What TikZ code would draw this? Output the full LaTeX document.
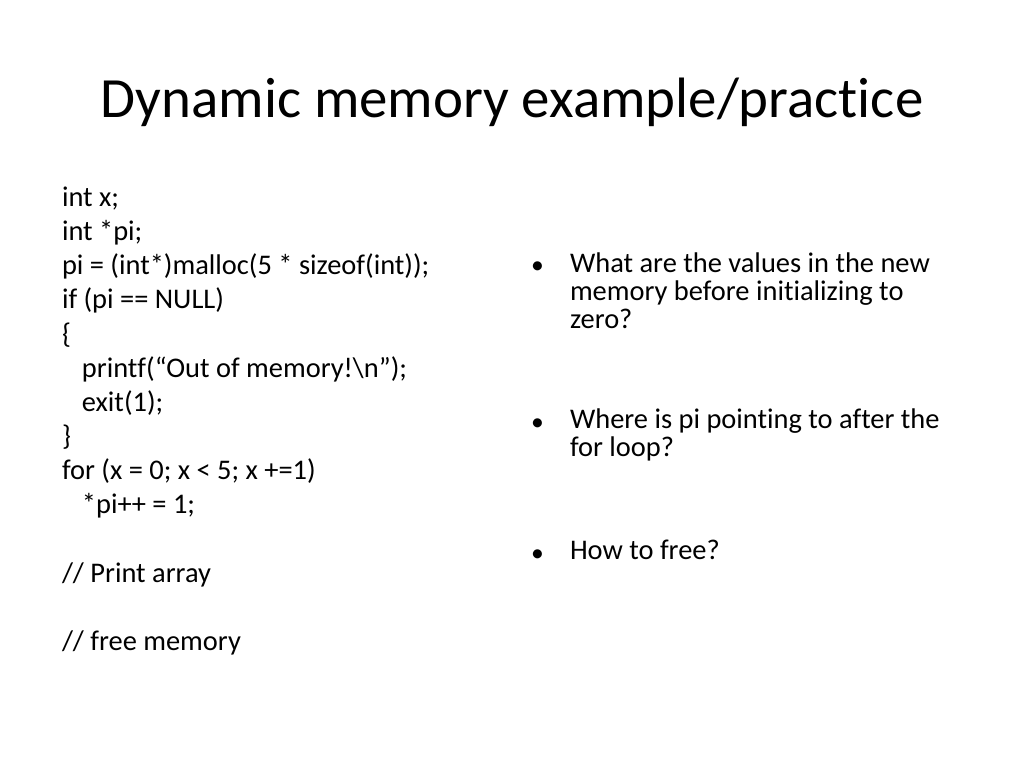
\documentclass[tikz,border=0pt]{standalone}
\usepackage{fontspec}
\setmainfont{Carlito}[Ligatures=NoCommon]
\usetikzlibrary{positioning}

\begin{document}
\begin{tikzpicture}[x=0.703125pt,y=-0.703125pt]
	\tikzstyle{every node}=[inner sep=0pt,outer sep=0pt]
	\tikzstyle{title}=[font=\fontsize{40}{48}\selectfont,anchor=base]
	\tikzstyle{code}=[font=\fontsize{20}{24}\selectfont,align=left,anchor=north west]
	\tikzstyle{item}=[font=\fontsize{20}{19.7}\selectfont,align=left,anchor=north west]
	\tikzstyle{dot}=[font=\fontsize{18}{19.7}\selectfont,anchor=base west]

	\useasboundingbox[fill=white] (0,0) rectangle (1024,768);

	\node[title] (T) at (512,118) {Dynamic memory example/practice};

	% left column: the code
	\node[code] (C) at (62,187) {int x;\\
		int *pi;\\
		pi = (int*)malloc(5 * sizeof(int));\\
		if (pi == NULL)\\
		\{\\
		\hspace*{14pt}printf(“Out of memory!\textbackslash n”);\\
		\hspace*{14pt}exit(1);\\
		\}\\
		for (x = 0; x < 5; x +=1)\\
		\hspace*{14pt}*pi++ = 1;\\[24pt]
		// Print array\\[24pt]
		// free memory};

	% right column: questions
	\node[item] (Q1) at (570,253) {What are the values in the new\\memory before initializing to\\zero?};
	\node[item] (Q2) at (570,409) {Where is pi pointing to after the\\for loop?};
	\node[item] (Q3) at (570,540) {How to free?};
	\node[dot] (B1) at (531,274) {•};
	\node[dot] (B2) at (531,430) {•};
	\node[dot] (B3) at (531,561) {•};
\end{tikzpicture}
\end{document}
